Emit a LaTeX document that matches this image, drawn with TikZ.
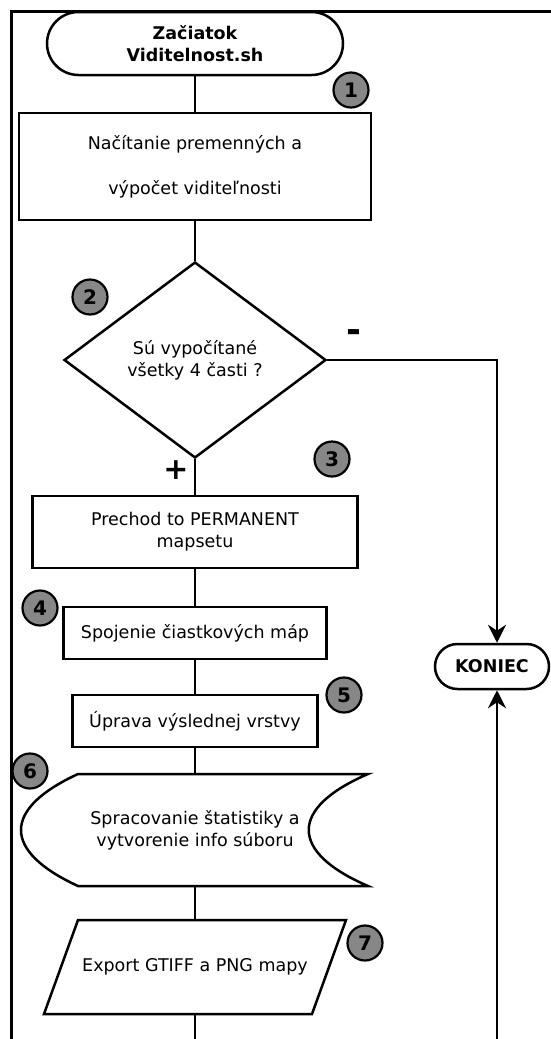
\documentclass[tikz,border=0pt]{standalone}
\usepackage{fontspec}
\setmainfont{DejaVu Sans}
\usetikzlibrary{shapes.geometric,shapes.misc,arrows.meta,calc}
\definecolor{badgegray}{RGB}{135,135,135}
\begin{document}
\begin{tikzpicture}[x=1pt,y=-1pt,
  line/.style={draw=black,line width=2.5pt},
  txt/.style={font=\fontsize{17.5}{22}\selectfont,align=center,inner sep=0pt},
  proc/.style={line,rectangle,txt},
  term/.style={line,rounded rectangle,txt,font=\fontsize{17.5}{22}\selectfont\bfseries},
  badge/.style={circle,draw=black,line width=2.2pt,fill=badgegray,minimum size=35pt,inner sep=0pt,font=\fontsize{20}{20}\selectfont\bfseries},
  conn/.style={line width=2.5pt},
  arr/.style={line width=2.5pt,-{Stealth[length=18pt,width=18pt,inset=6pt]}},
  sign/.style={inner sep=0pt}
]
\useasboundingbox (0,0) rectangle (551,1039);

% outer frame
\draw[line] (11.5,1039) -- (11.5,11.5) -- (551,11.5);

% flow steps
\node[term, minimum width=296, minimum height=63] (start) at (195,43.5) {Začiatok\\Viditelnost.sh};
\node[proc, minimum width=352, minimum height=107] (load) at (195,166.5) {Načítanie premenných a\\[23pt]výpočet viditeľnosti};
\node[line, diamond, txt, minimum width=262, minimum height=196] (dec) at (195,360) {Sú vypočítané\\všetky 4 časti ?};
\node[proc, minimum width=325, minimum height=72] (perm) at (195,532) {Prechod to PERMANENT\\mapsetu};
\node[proc, minimum width=263, minimum height=52] (merge) at (195,633) {Spojenie čiastkových máp};
\node[proc, minimum width=245, minimum height=52] (edit) at (195,721) {Úprava výslednej vrstvy};

% stored-data block
\draw[line] (78,774) -- (368,774) .. controls (289,808) and (289,852) .. (368,886)
  -- (78,886) .. controls (2,851) and (2,809) .. cycle;
\node[txt, minimum width=200, minimum height=112] (stat) at (195,830) {Spracovanie štatistiky a\\vytvorenie info súboru};

% input/output block
\draw[line] (78,920) -- (346,920) -- (312,1014) -- (44,1014) -- cycle;
\node[txt, minimum width=200, minimum height=94] (export) at (195,967) {Export GTIFF a PNG mapy};

\node[term, minimum width=114, minimum height=45] (end) at (492,666.5) {KONIEC};

% step numbers
\node[badge] (b1) at (351,90) {1};
\node[badge] (b2) at (90,297) {2};
\node[badge] (b3) at (332,459) {3};
\node[badge] (b4) at (40,608) {4};
\node[badge] (b5) at (344,695) {5};
\node[badge] (b6) at (30,771) {6};
\node[badge] (b7) at (365,943) {7};

% branch labels
\node[sign, font=\fontsize{36}{36}\selectfont\bfseries] (no) at (354,336) {-};
\node[sign, font=\fontsize{30}{30}\selectfont\bfseries] (yes) at (176,470) {+};

% connectors
\draw[conn] (start.south) -- (load.north);
\draw[conn] (load.south) -- (dec.north);
\draw[conn] (dec.south) -- (perm.north);
\draw[conn] (perm.south) -- (merge.north);
\draw[conn] (merge.south) -- (edit.north);
\draw[conn] (edit.south) -- (stat.north);
\draw[conn] (stat.south) -- (export.north);
\coordinate (bot) at (195,1039);
\draw[conn] (export.south) -- (bot);
\draw[arr] (dec.east) -| ([xshift=5pt]end.north);
\coordinate (rbot) at (497,1039);
\draw[arr] (rbot) -- ([xshift=5pt]end.south);
\end{tikzpicture}
\end{document}
